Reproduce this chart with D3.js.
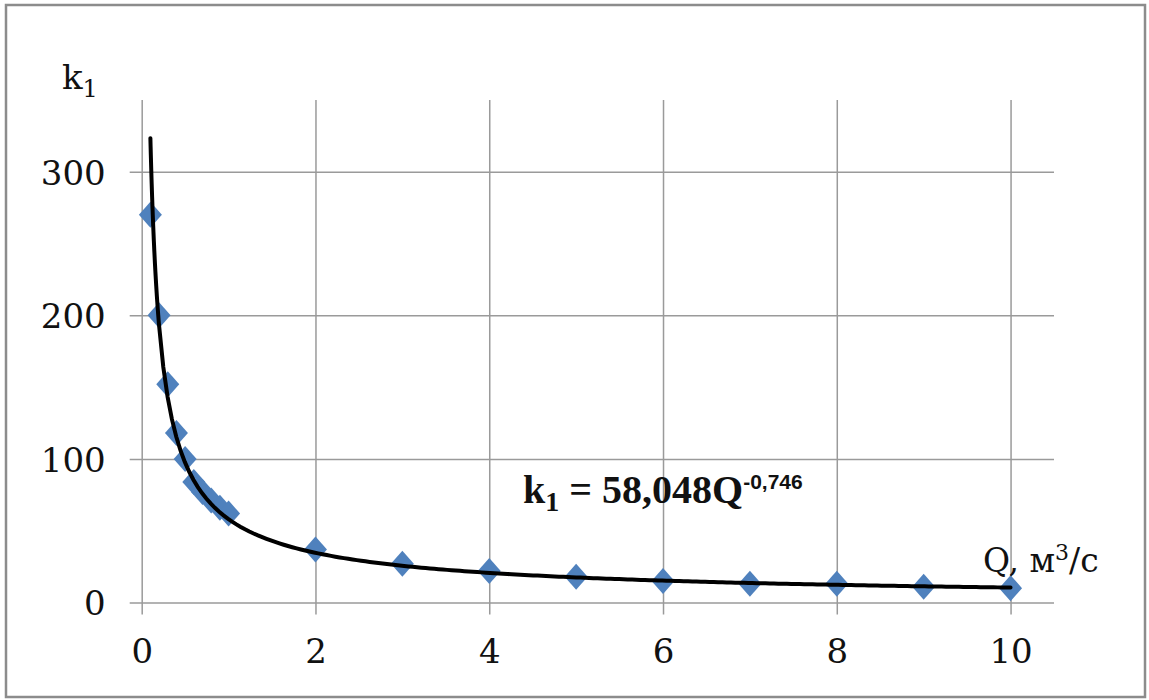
<!DOCTYPE html>
<html>
<head>
<meta charset="utf-8">
<script src="https://cdn.jsdelivr.net/npm/d3@7/dist/d3.min.js"></script>
<style>
  body { margin: 0; background: #fff; }
  svg { display: block; }
</style>
</head>
<body>
<svg id="chart" width="1149" height="700"></svg>
<script>
// measured points, Q (m3/s) vs k1
var qValues = [0.1, 0.2, 0.3, 0.4, 0.5, 0.6, 0.7, 0.8, 0.9, 1, 2, 3, 4, 5, 6, 7, 8, 9, 10];
var k1Values = [270, 200, 152, 118, 100, 84, 77, 71, 66, 62, 37, 27, 22, 18, 15, 13, 13, 11, 10];

// axis ticks
var xTicks = [0, 2, 4, 6, 8, 10];
var yTicks = [0, 100, 200, 300];

// power trendline shown on the chart: k1 = 58,048 Q^-0,746
var trendCoef = 58.048;
var trendPow = -0.746;

var serif = "'DejaVu Serif', serif";

var svg = d3.select("#chart");

// outer frame
svg
  .append("rect")
  .attr("x", 6)
  .attr("y", 5)
  .attr("width", 1139)
  .attr("height", 692)
  .attr("fill", "none")
  .attr("stroke", "#8c8c8c")
  .attr("stroke-width", 2.5);

var xScale = d3.scaleLinear().domain([0, 10.5]).range([141.7, 1054]);
var yScale = d3.scaleLinear().domain([0, 350]).range([602.5, 100]);

var tickOut = 12;

// horizontal gridlines (they cross the y axis a little)
var yAxis = d3
  .axisLeft(yScale)
  .tickValues(yTicks)
  .tickSize(-(xScale(10.5) - xScale(0) + tickOut))
  .tickPadding(24);

var yG = svg
  .append("g")
  .attr("transform", "translate(" + (xScale(0) - tickOut) + ",0)")
  .call(yAxis);
yG.select(".domain").remove();
yG.selectAll("line").attr("stroke", "#9a9a9a").attr("stroke-width", 1.5);
yG.selectAll("text")
  .attr("dy", "0.36em")
  .style("font-family", serif)
  .style("font-size", "34px")
  .attr("fill", "#111");

// vertical gridlines (they cross the x axis a little)
var xAxis = d3
  .axisBottom(xScale)
  .tickValues(xTicks)
  .tickSize(-(yScale(0) + tickOut - yScale(350)))
  .tickPadding(24);

var xG = svg
  .append("g")
  .attr("transform", "translate(0," + (yScale(0) + tickOut) + ")")
  .call(xAxis);
xG.select(".domain").remove();
xG.selectAll("line").attr("stroke", "#9a9a9a").attr("stroke-width", 1.5);
xG.selectAll("text")
  .style("font-family", serif)
  .style("font-size", "34px")
  .attr("fill", "#111");

// data points, diamond markers
var points = qValues.map(function (q, i) {
  return { q: q, k: k1Values[i] };
});

svg
  .append("g")
  .selectAll("path")
  .data(points)
  .enter()
  .append("path")
  .attr("d", "M0,-13L11.5,0L0,13L-11.5,0Z")
  .attr("transform", function (d) {
    return "translate(" + xScale(d.q) + "," + yScale(d.k) + ")";
  })
  .attr("fill", "#4f81bd");

// trendline
var trend = d3.range(0, 201).map(function (i) {
  var q = qValues[0] + (i / 200) * (qValues[qValues.length - 1] - qValues[0]);
  return { q: q, k: trendCoef * Math.pow(q, trendPow) };
});
// more samples near the steep start
var trendStart = d3.range(0, 40).map(function (i) {
  var q = qValues[0] + (i / 40) * 0.1;
  return { q: q, k: trendCoef * Math.pow(q, trendPow) };
});
trend = trendStart.concat(trend).sort(function (a, b) {
  return a.q - b.q;
});

svg
  .append("path")
  .datum(trend)
  .attr("fill", "none")
  .attr("stroke", "#000")
  .attr("stroke-width", 4)
  .attr("stroke-linecap", "round")
  .attr(
    "d",
    d3
      .line()
      .x(function (d) {
        return xScale(d.q);
      })
      .y(function (d) {
        return yScale(d.k);
      })
  );

// axis titles
var kLabel = svg
  .append("text")
  .attr("x", 62)
  .attr("y", 89)
  .style("font-family", serif)
  .style("font-size", "34px")
  .attr("fill", "#111");
kLabel.append("tspan").text("k");
kLabel.append("tspan").attr("dy", 8).style("font-size", "24px").text("1");

var qLabel = svg
  .append("text")
  .attr("x", 983)
  .attr("y", 572)
  .style("font-family", serif)
  .style("font-size", "33px")
  .attr("fill", "#111");
qLabel.append("tspan").text("Q, м");
qLabel.append("tspan").attr("dy", -12).style("font-size", "22px").text("3");
qLabel.append("tspan").attr("dy", 12).text("/с");

// trendline equation
var eq = svg
  .append("text")
  .attr("x", 523)
  .attr("y", 503)
  .style("font-family", "'Liberation Serif', serif")
  .style("font-weight", "bold")
  .style("font-size", "40px")
  .attr("fill", "#111");
eq.append("tspan").text("k");
eq.append("tspan").attr("dy", 8).style("font-size", "28px").text("1");
eq.append("tspan").attr("dy", -8).text(" = 58,048Q");
eq.append("tspan")
  .attr("dy", -14)
  .style("font-family", "'Liberation Sans', sans-serif")
  .style("font-size", "21px")
  .text("-0,746");
</script>
</body>
</html>
